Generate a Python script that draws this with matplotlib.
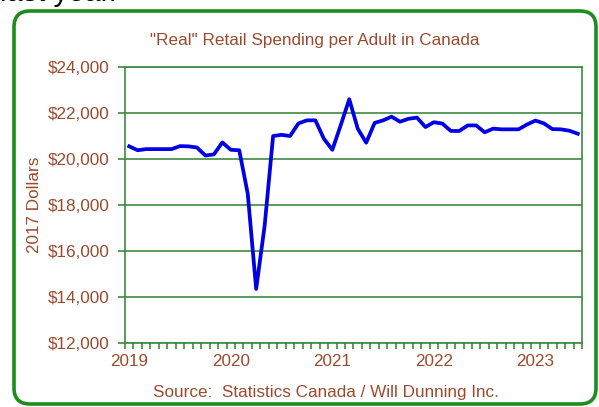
import numpy as np
import matplotlib
matplotlib.use("Agg")
import matplotlib.pyplot as plt
from matplotlib.patches import FancyBboxPatch
from matplotlib.transforms import IdentityTransform

plt.rcParams['font.family'] = ['Liberation Sans', 'DejaVu Sans']

# monthly, Jan 2019 .. Jun 2023
spending = [
    20550, 20380, 20430, 20430, 20430, 20430, 20560, 20550, 20500, 20150, 20200, 20720,
    20400, 20380, 18500, 14350, 17100, 21000, 21050, 21000, 21550, 21680, 21680, 20880,
    20400, 21480, 22600, 21320, 20710, 21570, 21680, 21840, 21620, 21750, 21800, 21390,
    21600, 21540, 21220, 21220, 21460, 21460, 21160, 21320, 21290, 21290, 21290, 21500,
    21670, 21550, 21300, 21290, 21230, 21100,
]
year_labels = ["2019", "2020", "2021", "2022", "2023"]
y_ticks = [12000, 14000, 16000, 18000, 20000, 22000, 24000]

brown = "#9a4b2e"
green = "#3d8a3d"

W, H = 599, 407
fig = plt.figure(figsize=(W / 100, H / 100), dpi=100)
fig.patch.set_facecolor("white")

# rounded frame around the chart
frame = FancyBboxPatch((14, 3), 582, 393, boxstyle="round,pad=0,rounding_size=16",
                       transform=IdentityTransform(), facecolor="none",
                       edgecolor="#1e8c1e", linewidth=2.6, zorder=-1)
fig.patches.append(frame)

fig.text(0.0, 1 - 1 / H, "last year.", fontsize=21, color="black",
         ha="left", va="baseline")

ax = fig.add_axes([125 / W, 1 - 343 / H, 457 / W, 276 / H])
ax.set_facecolor("white")

x = np.arange(len(spending))
ax.plot(x, spending, color="#0000e6", linewidth=2.7, solid_joinstyle="round", zorder=3)

ax.set_xlim(-0.5, len(spending) - 0.5)
ax.set_ylim(12000, 24000)
ax.set_yticks(y_ticks)
ax.set_yticklabels([f"${v:,}" for v in y_ticks])
ax.yaxis.grid(True, color=green, linewidth=1.2)
ax.set_axisbelow(True)

ax.set_xticks(np.arange(0, len(spending), 12))
ax.set_xticklabels(year_labels)
ax.set_xticks(np.arange(-0.5, len(spending), 1), minor=True)
ax.tick_params(axis="x", which="major", length=0, pad=8, labelsize=12.3, labelcolor=brown)
ax.tick_params(axis="x", which="minor", length=4, width=1.2, color=green, direction="out")
ax.tick_params(axis="y", length=5, width=1.2, color=green, labelsize=12.3,
               labelcolor=brown, pad=6)

for side in ["left", "right", "bottom", "top"]:
    ax.spines[side].set_color(green)
    ax.spines[side].set_linewidth(1.2)

ax.set_ylabel("2017 Dollars", fontsize=12.3, color=brown, labelpad=4)

fig.text(315 / W, 1 - 40 / H, '"Real" Retail Spending per Adult in Canada',
         fontsize=12.3, color=brown, ha="center", va="center")
fig.text(326 / W, 1 - 392 / H, "Source:  Statistics Canada / Will Dunning Inc.",
         fontsize=12.3, color=brown, ha="center", va="center")

fig.savefig("out.png", dpi=100)
